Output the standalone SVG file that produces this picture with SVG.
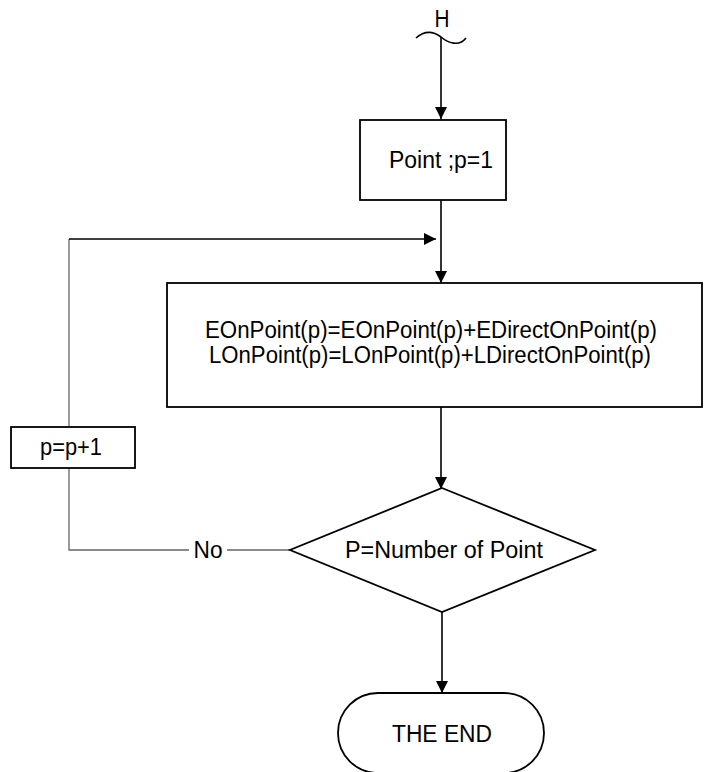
<svg xmlns="http://www.w3.org/2000/svg" width="707" height="772" viewBox="0 0 707 772">
  <style>
    .shape { fill: #ffffff; stroke: #000000; stroke-width: 1.8; }
    .flow { fill: none; stroke: #000000; stroke-width: 1.6; }
    .loop { fill: none; stroke: #666666; stroke-width: 1.3; }
    .label { font-family: "Liberation Sans", Arial, sans-serif; font-size: 23px; fill: #000000; text-anchor: middle; }
  </style>
  <defs>
    <marker id="arrow" viewBox="0 0 12 12" refX="12" refY="6" markerWidth="12" markerHeight="12" markerUnits="userSpaceOnUse" orient="auto">
      <path d="M0,0 L12,6 L0,12 Z" fill="#000000"/>
    </marker>
  </defs>

  <rect width="707" height="772" fill="#ffffff"/>

  <g id="connectors">
    <!-- off-page connector H -->
    <path class="flow" d="M416,38 C424,31 433,31 441,37 C448,43 459,47 466,38"/>
    <line class="flow" x1="441" y1="37" x2="441" y2="119" marker-end="url(#arrow)"/>
    <line class="flow" x1="441" y1="200" x2="441" y2="283" marker-end="url(#arrow)"/>
    <line class="flow" x1="441" y1="407" x2="441" y2="489" marker-end="url(#arrow)"/>
    <line class="flow" x1="442" y1="612" x2="442" y2="693" marker-end="url(#arrow)"/>
    <!-- "No" loop back -->
    <line class="loop" x1="290" y1="550" x2="227" y2="550"/>
    <polyline class="loop" points="189,550 69,550 69,239"/>
    <line class="flow" x1="69" y1="239" x2="436" y2="239" stroke-width="1.2" marker-end="url(#arrow)"/>
    <text class="label" x="208" y="558" textLength="29" lengthAdjust="spacingAndGlyphs">No</text>
  </g>

  <g id="label-h">
    <text class="label" x="442" y="27" textLength="15" lengthAdjust="spacingAndGlyphs">H</text>
  </g>

  <g id="node-point">
    <rect class="shape" x="360" y="120" width="146" height="80"/>
    <text class="label" x="441" y="167.5" textLength="104" lengthAdjust="spacingAndGlyphs">Point ;p=1</text>
  </g>

  <g id="node-accumulate">
    <rect class="shape" x="167" y="283" width="535" height="124"/>
    <text class="label" x="431" y="338" textLength="452" lengthAdjust="spacingAndGlyphs">EOnPoint(p)=EOnPoint(p)+EDirectOnPoint(p)</text>
    <text class="label" x="430" y="363" textLength="442" lengthAdjust="spacingAndGlyphs">LOnPoint(p)=LOnPoint(p)+LDirectOnPoint(p)</text>
  </g>

  <g id="node-increment">
    <rect class="shape" x="11" y="427" width="124" height="41" stroke-width="1.5"/>
    <text class="label" x="71" y="455" textLength="62" lengthAdjust="spacingAndGlyphs">p=p+1</text>
  </g>

  <g id="node-decision">
    <polygon class="shape" points="442,488 595,550 442,612 290,550"/>
    <text class="label" x="444" y="558" textLength="198" lengthAdjust="spacingAndGlyphs">P=Number of Point</text>
  </g>

  <g id="node-end">
    <path class="shape" d="M378,693 L504,693 A40,40 0 0 1 504,773 L378,773 A40,40 0 0 1 378,693 Z"/>
    <text class="label" x="442" y="742" textLength="100" lengthAdjust="spacingAndGlyphs">THE END</text>
  </g>
</svg>
